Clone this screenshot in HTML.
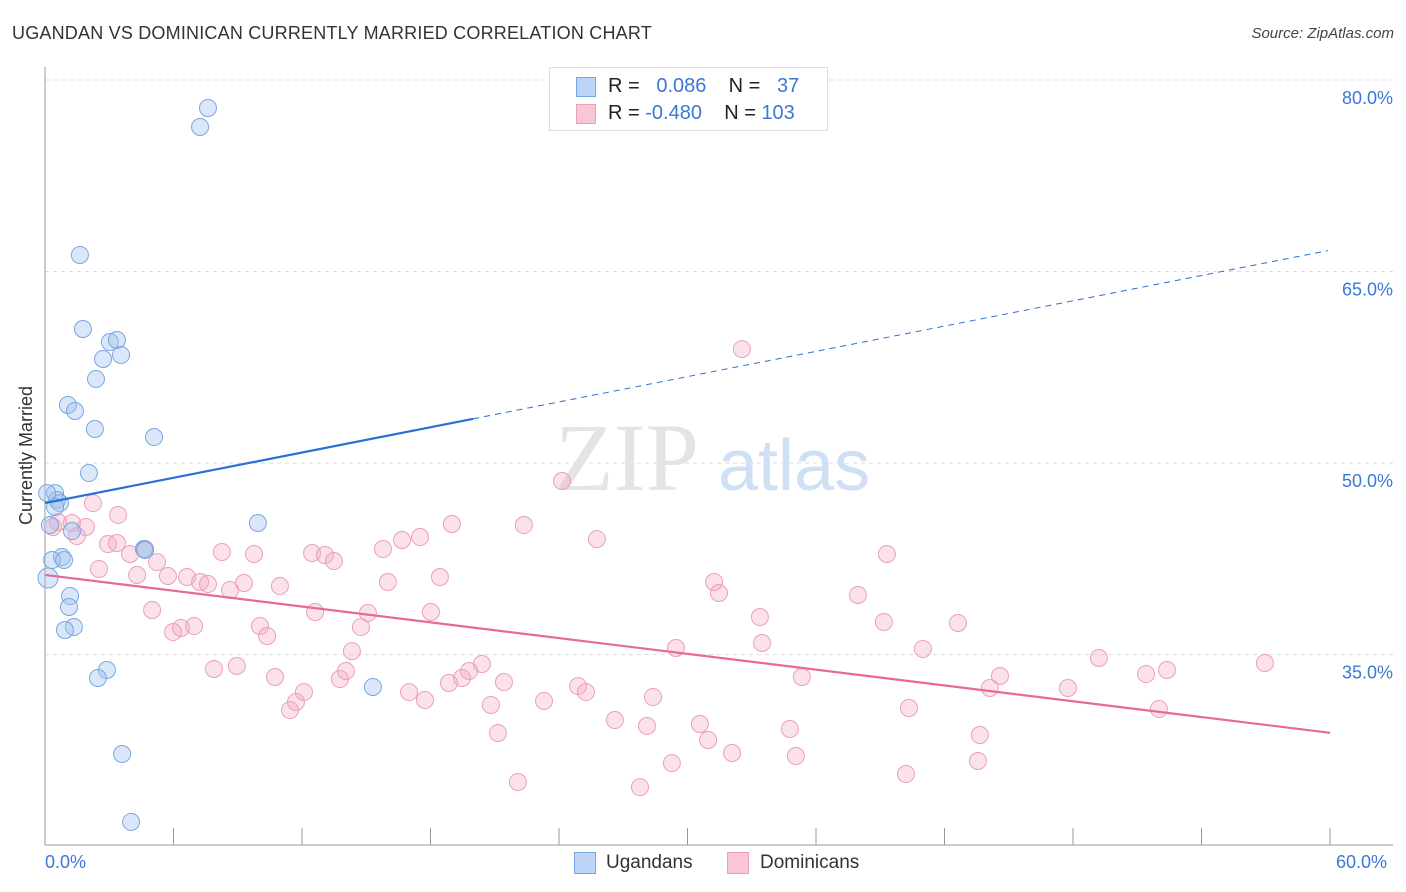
<!DOCTYPE html>
<html><head><meta charset="utf-8">
<style>
body{margin:0;background:#fff;font-family:"Liberation Sans",sans-serif;}
#wrap{position:relative;width:1406px;height:892px;overflow:hidden;}
.t{position:absolute;white-space:nowrap;}
</style></head>
<body>
<div id="wrap">
<div class="t" style="left:12px;top:23px;font-size:18px;color:#333;letter-spacing:0.2px">UGANDAN VS DOMINICAN CURRENTLY MARRIED CORRELATION CHART</div>
<div class="t" style="right:12px;top:25px;font-size:15px;color:#444;font-style:italic">Source: ZipAtlas.com</div>
<svg id="svg" width="1406" height="892" style="position:absolute;left:0;top:0"></svg>
</div>
<script>
const xTicks=[0,6,12,18,24,30,36,42,48,54,60];
const yTicks=[35,50,65,80];
const yTickLabels=["35.0%","50.0%","65.0%","80.0%"];
const ugX=[7.61,7.24,1.63,1.77,3.03,3.36,2.71,3.55,2.38,1.07,1.40,2.33,5.09,2.05,0.47,0.56,0.70,0.47,9.94,0.23,1.26,4.62,0.79,0.33,0.89,0.14,1.17,1.12,1.35,0.93,2.89,2.47,15.31,3.60,4.02,0.10,4.67];
const ugY=[77.81,76.32,66.30,60.50,59.48,59.64,58.15,58.47,56.59,54.55,54.08,52.67,52.04,49.22,47.65,47.11,46.87,46.56,45.31,45.15,44.68,43.27,42.65,42.41,42.41,41.0,39.59,38.73,37.17,36.93,33.80,33.17,32.47,27.22,21.90,47.65,43.19];
const doX=[32.54,24.14,2.24,0.61,1.26,1.91,3.41,0.37,19.0,22.36,1.49,2.94,3.36,4.67,3.97,8.26,9.76,12.47,13.07,13.49,15.78,16.67,17.51,25.77,39.31,2.52,4.30,5.23,5.74,6.63,7.24,7.61,8.64,9.29,10.97,16.01,18.44,31.24,31.47,5.0,12.61,15.08,18.02,33.38,37.96,39.17,42.63,5.98,6.35,6.96,10.04,10.37,14.75,14.33,7.89,8.96,10.74,12.09,11.72,11.44,13.77,14.05,20.40,19.80,19.47,18.86,21.43,17.0,17.74,20.82,23.30,24.89,25.26,28.39,29.46,33.48,35.34,40.99,44.59,44.12,47.76,49.21,51.41,52.39,56.96,52.01,40.34,26.61,28.11,30.58,34.78,21.15,30.96,32.08,35.06,43.65,43.56,29.27,40.20,22.08,27.78];
const doY=[58.93,48.60,46.87,45.39,45.31,45.0,45.94,45.0,45.23,45.15,44.29,43.66,43.74,43.27,42.88,43.04,42.88,42.96,42.80,42.33,43.27,43.98,44.21,44.05,42.88,41.71,41.24,42.25,41.16,41.08,40.69,40.53,40.06,40.61,40.38,40.69,41.08,40.69,39.83,38.5,38.34,38.26,38.34,37.95,39.67,37.56,37.48,36.77,37.09,37.24,37.24,36.46,37.16,35.28,33.88,34.11,33.25,32.07,31.29,30.66,33.09,33.72,34.27,33.72,33.17,32.78,32.86,32.07,31.45,31.06,31.37,32.54,32.07,31.68,35.52,35.91,33.25,35.44,33.33,32.39,32.39,34.74,33.48,33.80,34.35,30.74,30.82,29.88,29.41,29.57,29.18,28.86,28.32,27.30,27.06,28.71,26.67,26.51,25.65,25.03,24.63];
const ugLine=[46.87,0.33];
const doLine=[41.24,-0.206];
const X=v=>45+v/60*1285;
const Y=v=>80+(80-v)*12.77;
const svg=document.getElementById('svg');
const NS='http://www.w3.org/2000/svg';
function mk(t,a){const e=document.createElementNS(NS,t);for(const k in a)e.setAttribute(k,a[k]);svg.appendChild(e);return e;}
yTicks.forEach((v,i)=>{
 const g=mk('line',{x1:45,x2:1393,y1:Y(v),y2:Y(v),stroke:'#dcdcdc','stroke-dasharray':'4,4'});
 
 
 const t=mk('text',{x:1393,y:Y(v)+24,'text-anchor':'end','font-size':18,fill:'#3b78d6','font-family':'Liberation Sans'});
 t.textContent=yTickLabels[i];
 
 
});
const topGrid=mk('line',{x1:45,x2:1393,y1:80,y2:80,stroke:'#dcdcdc','stroke-dasharray':'4,4'});


const ax=mk('line',{x1:45,x2:45,y1:67,y2:845,stroke:'#999'});


const bx=mk('line',{x1:45,x2:1393,y1:845,y2:845,stroke:'#999'});


xTicks.forEach(v=>{const l=mk('line',{x1:X(v),x2:X(v),y1:828,y2:845,stroke:'#999'});
 
 });
const wm=mk('text',{x:555,y:490,'font-size':96,fill:'#e4e4e4','font-family':'Liberation Serif'});wm.textContent='ZIP';


const wm2=mk('text',{x:718,y:490,'font-size':72,fill:'#cfe0f5','font-family':'Liberation Sans'});wm2.textContent='atlas';


doX.forEach((x,i)=>{const c=mk('circle',{cx:X(x),cy:Y(doY[i]),r:8.5,fill:'rgba(244,170,196,0.35)',stroke:'#eaa0ba','stroke-width':1});
 
 });
ugX.forEach((x,i)=>{const c=mk('circle',{cx:X(x),cy:Y(ugY[i]),r:i==25?10:8.5,fill:'rgba(160,195,240,0.4)',stroke:'#7aa6e0','stroke-width':1});
 
 });
const ls=mk('line',{x1:X(0),y1:Y(ugLine[0]),x2:X(20),y2:Y(ugLine[0]+ugLine[1]*20),stroke:'#2a6fd6','stroke-width':2.2});


const ld=mk('line',{x1:X(20),y1:Y(ugLine[0]+ugLine[1]*20),x2:X(59.9),y2:Y(ugLine[0]+ugLine[1]*59.9),stroke:'#2a6fd6','stroke-width':1,'stroke-dasharray':'6,5'});


const lp=mk('line',{x1:X(0),y1:Y(doLine[0]),x2:X(60),y2:Y(doLine[0]+doLine[1]*60),stroke:'#e8689a','stroke-width':2.2});


</script>
<div class="t" style="left:-43px;top:445px;transform:rotate(-90deg);font-size:18px;color:#333">Currently Married</div>
<div class="t" style="left:45px;top:852px;font-size:18px;color:#3b78d6">0.0%</div>
<div class="t" style="left:1336px;top:852px;font-size:18px;color:#3b78d6">60.0%</div>
<div style="position:absolute;left:549px;top:67px;width:277px;height:62px;border:1px solid #ddd;background:#fff;font-size:20px;color:#222">
 <div style="position:absolute;left:26px;top:9px;width:18px;height:18px;background:#bcd4f5;border:1px solid #7aa6e0"></div>
 <div class="t" style="left:58px;top:7px">R = &nbsp;&nbsp;<span style="color:#3b78d6">0.086</span>&nbsp;&nbsp;&nbsp; N = &nbsp;&nbsp;<span style="color:#3b78d6">37</span></div>
 <div style="position:absolute;left:26px;top:36px;width:18px;height:18px;background:#f9c6d6;border:1px solid #eaa0ba"></div>
 <div class="t" style="left:58px;top:34px">R = <span style="color:#3b78d6">-0.480</span>&nbsp;&nbsp;&nbsp; N = <span style="color:#3b78d6">103</span></div>
</div>
<div style="position:absolute;left:574px;top:852px;font-size:19px;color:#333">
 <div style="position:absolute;left:0;top:0;width:20px;height:20px;background:#bcd4f5;border:1px solid #7aa6e0"></div>
 <div class="t" style="left:32px;top:0">Ugandans</div>
 <div style="position:absolute;left:153px;top:0;width:20px;height:20px;background:#f9c6d6;border:1px solid #eaa0ba"></div>
 <div class="t" style="left:186px;top:0">Dominicans</div>
</div>
</body></html>
